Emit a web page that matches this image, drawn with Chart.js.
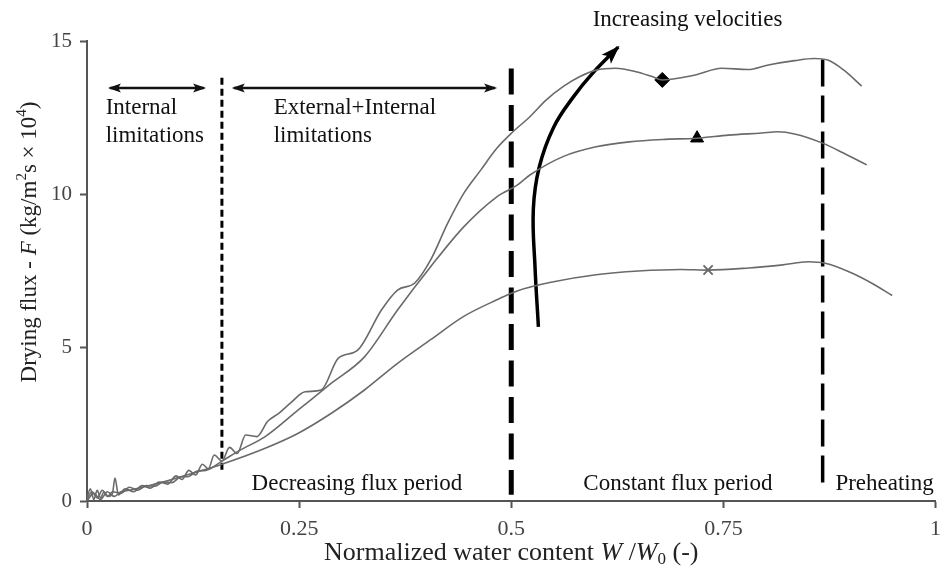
<!DOCTYPE html>
<html>
<head>
<meta charset="utf-8">
<script src="https://cdn.jsdelivr.net/npm/chart.js@4.4.1/dist/chart.umd.min.js"></script>
<style>
  html, body { margin: 0; padding: 0; background: #fff; }
  #chart { display: block; }
</style>
</head>
<body>
<canvas id="chart" width="949" height="581"></canvas>
<script>
// Drying flux F (kg/m2s x 10^4) against normalized water content W/W0, one series per air velocity
const xHigh = [0, 0.004, 0.008, 0.012, 0.016, 0.02, 0.025, 0.03, 0.033, 0.037, 0.045, 0.055, 0.065, 0.075, 0.085, 0.095,
  0.105, 0.112, 0.12, 0.128, 0.136, 0.143, 0.15, 0.159, 0.168, 0.177, 0.187, 0.2, 0.213, 0.226, 0.24, 0.257,
  0.276, 0.296, 0.319, 0.347, 0.366, 0.386, 0.405, 0.425, 0.444, 0.464, 0.483, 0.502, 0.522, 0.541, 0.561, 0.581,
  0.6, 0.623, 0.647, 0.666, 0.678, 0.7, 0.717, 0.748, 0.779, 0.803, 0.834, 0.857, 0.873, 0.892, 0.913];
const fHigh = [0.1, 0.4, 0.05, 0.35, 0.1, 0.3, 0.15, 0.25, 0.75, 0.2, 0.4, 0.3, 0.5, 0.42, 0.62, 0.55,
  0.82, 0.7, 1.0, 0.85, 1.2, 1.05, 1.5, 1.3, 1.75, 1.55, 2.15, 2.1, 2.6, 2.86, 3.2, 3.56,
  3.62, 4.65, 4.92, 6.23, 6.88, 7.1, 7.86, 9.05, 10.03, 10.79, 11.5, 12.04, 12.53, 13.07, 13.51, 13.84,
  14.05, 14.11, 14.0, 13.84, 13.73, 13.8, 13.89, 14.11, 14.07, 14.22, 14.36, 14.43, 14.38, 14.05, 13.53];

const xMid = [0, 0.006, 0.012, 0.018, 0.024, 0.03, 0.04, 0.05, 0.06, 0.07, 0.08, 0.09, 0.1, 0.11, 0.12, 0.13, 0.14,
  0.159, 0.18, 0.21, 0.249, 0.288, 0.327, 0.366, 0.405, 0.444, 0.483, 0.507, 0.522, 0.561, 0.6, 0.639, 0.678,
  0.719, 0.756, 0.795, 0.814, 0.834, 0.867, 0.892, 0.919];
const fMid = [0.05, 0.3, 0.1, 0.35, 0.15, 0.3, 0.25, 0.45, 0.35, 0.5, 0.48, 0.62, 0.6, 0.78, 0.8, 0.98, 1.0,
  1.3, 1.65, 2.1, 2.97, 3.84, 4.7, 6.23, 7.64, 8.94, 9.92, 10.3, 10.63, 11.23, 11.55, 11.71, 11.79,
  11.83, 11.93, 12.0, 12.04, 11.97, 11.67, 11.34, 10.96];

const xLow = [0, 0.008, 0.016, 0.024, 0.032, 0.04, 0.05, 0.065, 0.08, 0.1, 0.13, 0.159, 0.21, 0.249, 0.288, 0.327,
  0.366, 0.405, 0.444, 0.483, 0.507, 0.55, 0.6, 0.65, 0.7, 0.732, 0.78, 0.82, 0.85, 0.87, 0.9, 0.925, 0.949];
const fLow = [0.0, 0.25, 0.05, 0.3, 0.15, 0.3, 0.35, 0.45, 0.55, 0.7, 0.95, 1.2, 1.72, 2.21, 2.86, 3.62,
  4.49, 5.26, 6.02, 6.56, 6.85, 7.15, 7.38, 7.5, 7.55, 7.53, 7.6, 7.7, 7.8, 7.75, 7.45, 7.1, 6.7];

// one marker per series (diamond, triangle, cross)
const markerX = [0.678, 0.719, 0.732];
const markerF = [13.73, 11.83, 7.53];

// period boundaries
const dividerX = [0.159, 0.5, 0.867];
const dividerLow = [0.95, 0.2, 0.4];
const dividerHigh = [13.8, 14.1, 14.4];

// double arrows over the limitation zones
const rangeX = [[0.027, 0.138], [0.173, 0.481]];
const rangeF = 13.47;

// "increasing velocities" arrow path
const velX = [0.532, 0.528, 0.526, 0.533, 0.55, 0.573, 0.596, 0.626];
const velF = [5.68, 7.64, 9.5, 10.89, 12.19, 13.17, 13.95, 14.8];

const xTicks = [0, 0.25, 0.5, 0.75, 1];
const xTickLabels = ['0', '0.25', '0.5', '0.75', '1'];
const yTicks = [0, 5, 10, 15];

const noteTexts = ['Increasing velocities', 'Internal', 'limitations', 'External+Internal', 'limitations',
  'Decreasing flux period', 'Constant flux period', 'Preheating'];

const SERIF = '"Liberation Serif", "Times New Roman", serif';
const zip = (xs, ys) => xs.map((x, i) => ({ x: x, y: ys[i] }));

// where each note sits, in data units (left edge, vertical centre)
const notePos = [[0.596, 15.68], [0.022, 12.81], [0.022, 11.9], [0.22, 12.81], [0.22, 11.9],
  [0.194, 0.55], [0.585, 0.55], [0.882, 0.55]];

function curve(xs, ys) {
  return {
    data: zip(xs, ys), borderColor: '#6a6a6a', borderWidth: 1.6, pointRadius: 0,
    cubicInterpolationMode: 'monotone', fill: false
  };
}

const datasets = [curve(xHigh, fHigh), curve(xMid, fMid), curve(xLow, fLow)];

const dashes = [[7, 4], [26, 10.5], [27, 9]];
const dashWidth = [3, 5, 3.5];
dividerX.forEach((x, i) => {
  datasets.push({
    data: [{ x: x, y: dividerHigh[i] }, { x: x, y: dividerLow[i] }],
    borderColor: '#000', borderWidth: dashWidth[i], borderDash: dashes[i], pointRadius: 0, tension: 0
  });
});

rangeX.forEach(r => {
  datasets.push({
    data: [{ x: r[0], y: rangeF }, { x: r[1], y: rangeF }],
    borderColor: '#111', borderWidth: 2.5, pointRadius: 0, tension: 0,
    heads: ['start', 'end'], headLen: 11, headWidth: 9
  });
});

datasets.push({
  data: zip(velX, velF), borderColor: '#000', borderWidth: 3.5, pointRadius: 0, tension: 0.4,
  heads: ['end'], headLen: 17, headWidth: 13
});

const markerStyle = ['rectRot', 'triangle', 'crossRot'];
const markerSize = [7.5, 7.5, 6.5];
markerX.forEach((x, i) => {
  datasets.push({
    data: [{ x: x, y: markerF[i] }], showLine: false,
    pointStyle: markerStyle[i], pointRadius: markerSize[i],
    pointBackgroundColor: '#000', pointBorderColor: i === 2 ? '#666' : '#000', pointBorderWidth: i === 2 ? 1.8 : 1
  });
});

function drawHead(ctx, fx, fy, tx, ty, len, width, color) {
  const a = Math.atan2(ty - fy, tx - fx);
  ctx.save();
  ctx.translate(tx, ty);
  ctx.rotate(a);
  ctx.fillStyle = color;
  ctx.beginPath();
  ctx.moveTo(2, 0);
  ctx.lineTo(-len, -width / 2);
  ctx.lineTo(-len * 0.75, 0);
  ctx.lineTo(-len, width / 2);
  ctx.closePath();
  ctx.fill();
  ctx.restore();
}

// text with italic / superscript / subscript pieces, centred on the origin
function drawRich(ctx, parts, size) {
  const fontFor = s => (s === 'i' ? 'italic ' : '') + (s === 'sup' || s === 'sub' ? Math.round(size * 0.66) : size) + 'px ' + SERIF;
  let total = 0;
  parts.forEach(p => { ctx.font = fontFor(p[1]); total += ctx.measureText(p[0]).width; });
  let x = -total / 2;
  ctx.textAlign = 'left';
  ctx.textBaseline = 'middle';
  parts.forEach(p => {
    ctx.font = fontFor(p[1]);
    const dy = p[1] === 'sup' ? -size * 0.36 : p[1] === 'sub' ? size * 0.24 : 0;
    ctx.fillText(p[0], x, dy);
    x += ctx.measureText(p[0]).width;
  });
}

const overlay = {
  id: 'overlay',
  afterDatasetsDraw(chart) {
    const ctx = chart.ctx;
    chart.data.datasets.forEach((ds, i) => {
      if (!ds.heads) return;
      const pts = chart.getDatasetMeta(i).data;
      ds.heads.forEach(end => {
        const tip = end === 'end' ? pts[pts.length - 1] : pts[0];
        const from = end === 'end' ? pts[pts.length - 2] : pts[1];
        drawHead(ctx, from.x, from.y, tip.x, tip.y, ds.headLen, ds.headWidth, ds.borderColor);
      });
    });
  },
  afterDraw(chart) {
    const ctx = chart.ctx;
    const xs = chart.scales.x, ys = chart.scales.y;
    ctx.save();
    ctx.fillStyle = '#111';
    ctx.font = '23px ' + SERIF;
    ctx.textAlign = 'left';
    ctx.textBaseline = 'middle';
    noteTexts.forEach((t, i) => {
      ctx.fillText(t, xs.getPixelForValue(notePos[i][0]), ys.getPixelForValue(notePos[i][1]));
    });

    ctx.fillStyle = '#222';
    // y title
    ctx.save();
    ctx.translate(30, 242);
    ctx.rotate(-Math.PI / 2);
    drawRich(ctx, [['Drying flux - ', ''], ['F', 'i'], [' (kg/m', ''], ['2', 'sup'], ['s × 10', ''], ['4', 'sup'], [')', '']], 23);
    ctx.restore();
    // x title
    ctx.save();
    ctx.translate((chart.chartArea.left + chart.chartArea.right) / 2, 553);
    drawRich(ctx, [['Normalized water content ', ''], ['W', 'i'], [' /', ''], ['W', 'i'], ['0', 'sub'], [' (-)', '']], 26);
    ctx.restore();
    ctx.restore();
  }
};

const axisGrid = { drawOnChartArea: false, tickLength: 7, tickColor: '#555', tickWidth: 2 };
const axisBorder = { display: true, color: '#555', width: 2 };

new Chart(document.getElementById('chart'), {
  type: 'line',
  data: { datasets: datasets },
  plugins: [overlay],
  options: {
    responsive: false,
    animation: false,
    events: [],
    layout: { padding: { top: 41, right: 7, left: 0, bottom: 0 } },
    plugins: { legend: { display: false }, tooltip: { enabled: false } },
    scales: {
      x: {
        type: 'linear', min: 0, max: 1,
        afterBuildTicks: s => { s.ticks = xTicks.map(v => ({ value: v })); },
        ticks: {
          callback: (v, i) => xTickLabels[i], color: '#444', padding: 8, maxRotation: 0,
          font: { family: SERIF, size: 22 }
        },
        grid: axisGrid, border: axisBorder,
        afterFit: s => { s.height = 80; }
      },
      y: {
        type: 'linear', min: 0, max: 15,
        afterBuildTicks: s => { s.ticks = yTicks.map(v => ({ value: v })); },
        ticks: { color: '#444', padding: 8, font: { family: SERIF, size: 21 } },
        grid: axisGrid, border: axisBorder,
        afterFit: s => { s.width = 87; }
      }
    }
  }
});
</script>
</body>
</html>
